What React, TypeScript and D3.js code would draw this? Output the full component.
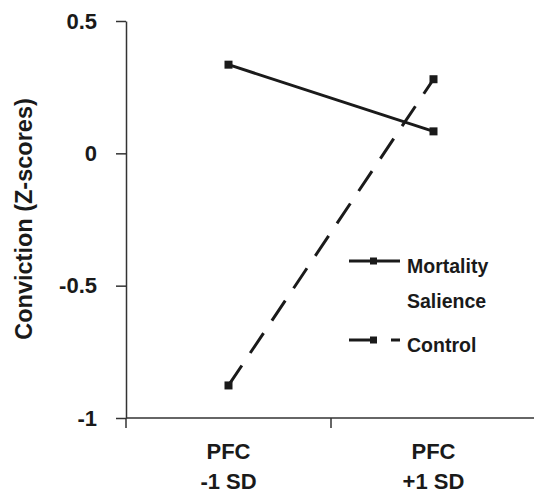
import { useRef, useEffect } from "react";
import * as d3 from "d3";

// data
const categories = ["-1 SD", "+1 SD"];
const catLine1 = ["PFC", "PFC"];
const catLine2 = ["-1 SD", "+1 SD"];
const mortality = [0.335, 0.083];
const control = [-0.877, 0.28];
const yTicks = [0.5, 0, -0.5, -1];
const yTickLabels = ["0.5", "0", "-0.5", "-1"];
const seriesNames = ["Mortality", "Control"];

const W = 534;
const H = 495;
const FONT = "'Liberation Sans', Arial, sans-serif";
const INK = "#1a1a1a";

export default function App() {
  const svgRef = useRef<SVGSVGElement>(null);

  useEffect(() => {
    const svg = d3.select(svgRef.current);
    svg.selectAll("*").remove();

    // scales
    const x = d3.scaleBand().domain(categories).range([126, 536]).padding(0);
    const y = d3.scaleLinear().domain([-1, 0.5]).range([418, 21]);
    const cx = (i: number) => (x(categories[i]) as number) + x.bandwidth() / 2;

    // y axis
    const yAxis = d3
      .axisLeft(y)
      .tickValues(yTicks)
      .tickSize(10)
      .tickSizeOuter(0)
      .tickPadding(19)
      .tickFormat((d, i) => yTickLabels[i]);
    const gy = svg.append("g").attr("transform", "translate(126,0)").call(yAxis);
    gy.select(".domain").attr("stroke", "#333").attr("stroke-width", 1.5);
    gy.selectAll(".tick line").attr("stroke", "#333").attr("stroke-width", 1.5);
    gy.selectAll(".tick text")
      .attr("font-family", FONT)
      .attr("font-weight", "bold")
      .attr("font-size", 22)
      .attr("fill", INK);

    // x axis line + ticks at band boundaries
    svg
      .append("line")
      .attr("x1", 126)
      .attr("x2", W)
      .attr("y1", y(-1))
      .attr("y2", y(-1))
      .attr("stroke", "#333")
      .attr("stroke-width", 1.5);
    svg
      .selectAll(".xtick")
      .data(categories)
      .join("line")
      .attr("class", "xtick")
      .attr("x1", (d) => x(d) as number)
      .attr("x2", (d) => x(d) as number)
      .attr("y1", y(-1))
      .attr("y2", y(-1) + 10)
      .attr("stroke", "#333")
      .attr("stroke-width", 1.5);

    const xl = svg
      .selectAll(".xlab")
      .data(categories)
      .join("text")
      .attr("class", "xlab")
      .attr("text-anchor", "middle")
      .attr("font-family", FONT)
      .attr("font-weight", "bold")
      .attr("font-size", 22)
      .attr("fill", INK);
    xl.append("tspan")
      .attr("x", (d, i) => cx(i))
      .attr("y", 459)
      .text((d, i) => catLine1[i]);
    xl.append("tspan")
      .attr("x", (d, i) => cx(i))
      .attr("y", 489)
      .text((d, i) => catLine2[i]);

    // y label
    svg
      .append("text")
      .attr("transform", "translate(32,219) rotate(-90)")
      .attr("text-anchor", "middle")
      .attr("font-family", FONT)
      .attr("font-weight", "bold")
      .attr("font-size", 23.5)
      .attr("fill", INK)
      .text("Conviction (Z-scores)");

    // series
    const line = d3
      .line<number>()
      .x((d, i) => cx(i))
      .y((d) => y(d));

    const drawSeries = (vals: number[], dash: string | null) => {
      svg
        .append("path")
        .attr("d", line(vals))
        .attr("fill", "none")
        .attr("stroke", INK)
        .attr("stroke-width", 3)
        .attr("stroke-dasharray", dash);
      svg
        .append("g")
        .selectAll("rect")
        .data(vals)
        .join("rect")
        .attr("x", (d, i) => cx(i) - 4)
        .attr("y", (d) => y(d) - 4)
        .attr("width", 8)
        .attr("height", 8)
        .attr("fill", INK);
    };
    drawSeries(mortality, null);
    drawSeries(control, "24,15");

    // legend
    const leg = svg.append("g");
    const legRows = [
      { y: 261, dash: null as string | null, label: ["Mortality", "Salience"] },
      { y: 340, dash: "28,14,10", label: ["Control"] },
    ];
    legRows.forEach((r, k) => {
      leg
        .append("line")
        .attr("x1", 349)
        .attr("x2", 400)
        .attr("y1", r.y)
        .attr("y2", r.y)
        .attr("stroke", INK)
        .attr("stroke-width", 3)
        .attr("stroke-dasharray", r.dash);
      leg
        .append("rect")
        .attr("x", 370)
        .attr("y", r.y - 3.5)
        .attr("width", 7)
        .attr("height", 7)
        .attr("fill", INK);
      const t = leg
        .append("text")
        .attr("font-family", FONT)
        .attr("font-weight", "bold")
        .attr("font-size", 19.5)
        .attr("fill", INK)
        .attr("data-series", seriesNames[k]);
      r.label.forEach((s, j) => {
        t.append("tspan")
          .attr("x", 407)
          .attr("y", r.y + 12 + j * 35)
          .text(s);
      });
    });
  }, []);

  return (
    <svg
      ref={svgRef}
      width={W}
      height={H}
      style={{ position: "absolute", left: 0, top: 0, background: "#fff" }}
    />
  );
}
